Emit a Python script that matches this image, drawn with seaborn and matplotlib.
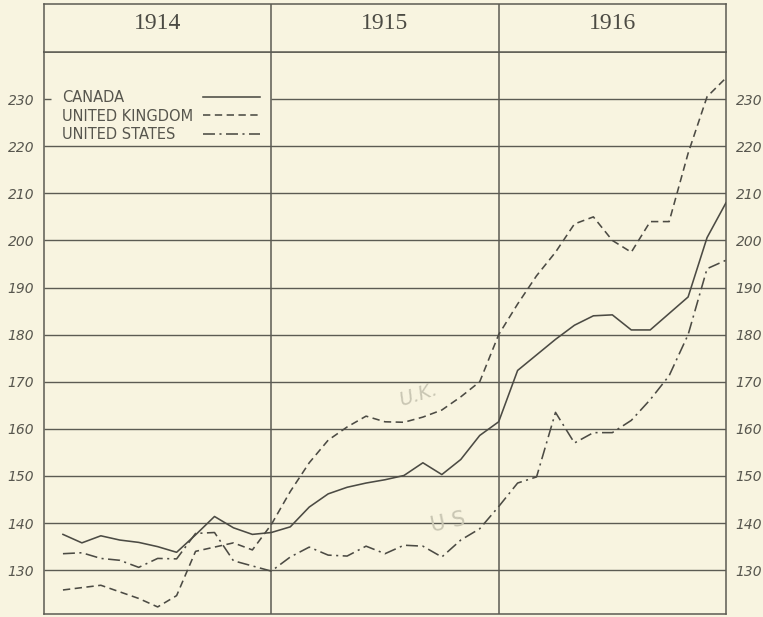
import matplotlib
matplotlib.use("Agg")
import matplotlib.pyplot as plt
import seaborn as sns
import pandas as pd

# ---------------- data ----------------
years = ["1914", "1915", "1916"]
month = list(range(1, 37))

canada = [137.6, 135.8, 137.3, 136.4, 135.9, 135.0, 133.8, 137.5, 141.4, 139.0, 137.6, 138.0,
          139.2, 143.4, 146.2, 147.6, 148.5, 149.2, 150.1, 152.8, 150.3, 153.5, 158.6, 161.5,
          172.4, 175.7, 179.0, 182.0, 184.0, 184.2, 181.0, 181.0, 184.5, 188.0, 200.6, 208.0]

united_kingdom = [125.8, 126.3, 126.8, 125.4, 124.0, 122.2, 124.6, 134.0, 134.9, 135.8, 134.3, 139.7,
                  146.7, 152.8, 157.6, 160.4, 162.7, 161.5, 161.4, 162.5, 164.0, 166.8, 170.0, 180.0,
                  186.5, 192.5, 197.5, 203.5, 205.0, 200.0, 197.5, 204.0, 204.0, 218.5, 230.5, 234.5]

united_states = [133.5, 133.7, 132.5, 132.1, 130.6, 132.5, 132.4, 137.8, 138.0, 132.0, 130.9, 129.8,
                 132.8, 134.9, 133.2, 133.0, 135.1, 133.5, 135.3, 135.1, 132.8, 136.4, 138.8, 143.5,
                 148.5, 149.8, 163.5, 157.0, 159.2, 159.2, 161.8, 166.2, 171.3, 180.0, 194.0, 195.8]

series_names = ["CANADA", "UNITED KINGDOM", "UNITED STATES"]
y_ticks = list(range(130, 231, 10))

# ---------------- style ----------------
BG = "#F8F4E0"
INK = "#4c4b44"
GRID = "#5c5b53"
TXT = "#57564e"

df = pd.DataFrame({
    "month": month * 3,
    "index": canada + united_kingdom + united_states,
    "country": [series_names[0]] * 36 + [series_names[1]] * 36 + [series_names[2]] * 36,
})

fig = plt.figure(figsize=(7.63, 6.17), dpi=100, facecolor=BG)
W, H = 763, 617
ax = fig.add_axes([44 / W, (H - 614) / H, 682 / W, (614 - 52) / H])
hax = fig.add_axes([44 / W, (H - 52) / H, 682 / W, 48 / H])
for a in (ax, hax):
    a.set_facecolor(BG)
    for s in a.spines.values():
        s.set_color(GRID)
        s.set_linewidth(1.1)

# grid lines (drawn under the data)
for v in y_ticks:
    if v == 230:
        ax.hlines(v, 0, 0.35, color=GRID, lw=1.0, zorder=1)
        ax.hlines(v, 12, 36, color=GRID, lw=1.0, zorder=1)
    else:
        ax.hlines(v, 0, 36, color=GRID, lw=1.0, zorder=1)
ax.vlines([12, 24], 0, 300, color=GRID, lw=1.1, zorder=1)

sns.lineplot(
    data=df, x="month", y="index", hue="country", style="country",
    palette={n: INK for n in series_names},
    dashes={"CANADA": "", "UNITED KINGDOM": (4.6, 2.8), "UNITED STATES": (7.5, 2.8, 1.3, 2.8)},
    linewidth=1.15, ax=ax, zorder=3,
)

ax.set_xlim(0, 36)
ax.set_ylim(120.7, 240)
ax.set_xticks([])
ax.set_yticks(y_ticks)
ax.set_yticklabels([str(v) for v in y_ticks])
ax.tick_params(axis="y", length=0, pad=7, labelleft=True, labelright=True,
               labelsize=10, labelcolor=TXT)
for lab in ax.get_yticklabels():
    lab.set_fontstyle("italic")
    lab.set_fontfamily("DejaVu Sans")
ax.set_xlabel("")
ax.set_ylabel("")

# legend: labels (left aligned) and line samples (right column)
handles, labels = ax.get_legend_handles_labels()
if ax.get_legend() is not None:
    ax.get_legend().remove()
FS = 10.5
leg_text = ax.legend(handles, labels, loc="center left",
                     bbox_to_anchor=((62 - 44 - 7) / 682, 0.886),
                     frameon=False, handlelength=0, handletextpad=0,
                     labelspacing=0.26, borderpad=0,
                     prop={"family": "DejaVu Sans", "size": FS})
for t in leg_text.get_texts():
    t.set_color(TXT)
for h in leg_text.legend_handles:
    h.set_visible(False)
ax.add_artist(leg_text)
leg_lines = ax.legend(handles, [" "] * len(handles), loc="center right",
                      bbox_to_anchor=((267 - 44) / 682, 0.886),
                      markerfirst=False, frameon=False, handlelength=3.9, handletextpad=0,
                      labelspacing=0.26, borderpad=0,
                      prop={"family": "DejaVu Sans", "size": FS})

# faint pencil annotations
ax.text(19.8, 167.2, "U.K.", rotation=18, fontsize=14, color="#c9c6b3",
        ha="center", va="center", fontstyle="italic", zorder=2)
ax.text(21.3, 140.2, "U S", rotation=12, fontsize=15, color="#c9c6b3",
        ha="center", va="center", zorder=2)

# header row with years
hax.set_xlim(0, 36)
hax.set_ylim(0, 1)
hax.set_xticks([])
hax.set_yticks([])
hax.vlines([12, 24], 0, 1, color=GRID, lw=1.1)
for i, yr in enumerate(years):
    hax.text(6 + 12 * i, 0.6, yr, ha="center", va="center", fontsize=17,
             family="Liberation Serif", color=INK)

fig.savefig("out.png", dpi=100, facecolor=BG)
